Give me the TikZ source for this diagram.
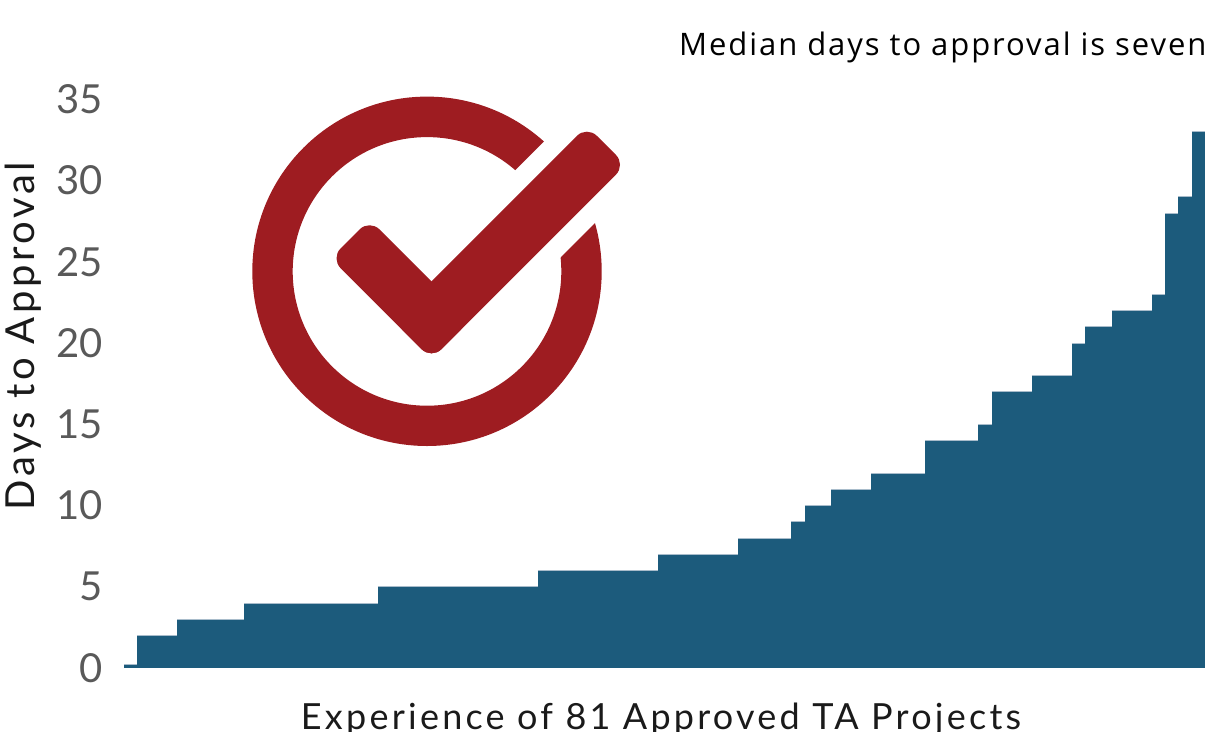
\documentclass[tikz,border=0pt]{standalone}
\usepackage{fontspec}
\setmainfont{Lato}
\newfontfamily\titlefont[LetterSpace=6.2]{Open Sans}
\newfontfamily\axisfont[LetterSpace=9]{Lato}
\definecolor{barblue}{HTML}{1C5B7C}
\definecolor{barhl}{HTML}{A8BCCB}
\definecolor{checkred}{HTML}{9E1C21}
\definecolor{ticktext}{HTML}{595959}
\definecolor{axtext}{HTML}{1A1A1A}
\tikzset{
  barfill/.style={fill=barblue},
  bartop/.style={draw=barhl, line width=1},
  ticklabel/.style={anchor=east, text=ticktext, font=\fontsize{40}{44}\selectfont, inner sep=0},
  axtitle/.style={text=axtext, font=\axisfont\fontsize{37}{42}\selectfont, inner sep=0},
  charttitle/.style={text=black, font=\titlefont\fontsize{31}{34}\selectfont, inner sep=0},
  iconred/.style={fill=checkred},
}
\begin{document}
\begin{tikzpicture}[x=1pt,y=-1pt]
\useasboundingbox (0,0) rectangle (1210,731);
% bars
\foreach \a/\b/\v in {0/1/0.2, 1/4/2, 4/9/3, 9/19/4, 19/31/5, 31/40/6, 40/46/7, 46/50/8, 50/51/9, 51/53/10, 53/56/11, 56/60/12, 60/64/14, 64/65/15, 65/68/17, 68/71/18, 71/72/20, 72/74/21, 74/77/22, 77/78/23, 78/79/28, 79/80/29, 80/81/33} {
  \fill[barfill] ({124+\a*13.346},668) rectangle ({124+\b*13.346+0.4},{668-16.25*\v});
  \draw[bartop] ({124+\a*13.346},{668-16.25*\v}) -- ({124+\b*13.346},{668-16.25*\v});
}
% tick labels
\foreach \v in {0,5,...,35} {
  \node[ticklabel] (t\v) at (103,{668-16.25*\v}) {\v};
}
% axis titles
\node[axtitle, rotate=90, font=\axisfont\fontsize{40}{44}\selectfont] (ytitle) at (23.5,336) {Days to Approval};
\node[axtitle, anchor=base, font=\axisfont\fontsize{36}{40}\selectfont] (xtitle) at (661,729) {Experience of 81 Approved TA Projects};
% chart title
\node[charttitle, anchor=base west] (title) at (679,55) {Median days to approval is seven};
% check icon: ring
\fill[iconred, even odd rule] (427,271.3) circle (174.7pt) (427,271.4) circle (134.3pt);
% gap in ring
\fill[white] (467.8,217.8) -- (602.8,82.8) -- (668.95,148.95) -- (533.95,283.95) -- cycle;
% check mark
\fill[iconred, rounded corners=14pt] (369.55,219.45) -- (470.35,320.25) -- (431.5,359.1) -- (330.7,258.3) -- cycle;
\fill[iconred, rounded corners=14pt] (586.9,125.9) -- (625.8,164.8) -- (431.5,359.1) -- (392.6,320.2) -- cycle;
\end{tikzpicture}
\end{document}
